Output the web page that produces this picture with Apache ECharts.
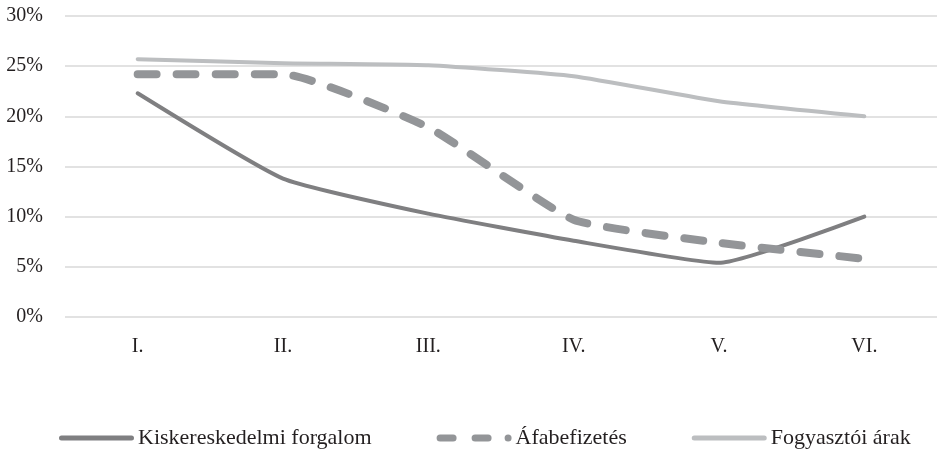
<!DOCTYPE html>
<html><head><meta charset="utf-8">
<script src="https://cdn.jsdelivr.net/npm/echarts@6/dist/echarts.min.js"></script>
<style>html,body{margin:0;padding:0;background:#fff}#c{width:937px;height:450px}</style>
</head><body><div id="c"></div>
<script>
const categories = ['I.', 'II.', 'III.', 'IV.', 'V.', 'VI.'];
const seriesNames = ['Kiskereskedelmi forgalom', 'Áfabefizetés', 'Fogyasztói árak'];
const kisker = [22.3, 13.8, 10.3, 7.6, 5.4, 10.0];
const afa = [24.2, 24.2, 18.9, 9.7, 7.4, 5.8];
const fogy = [25.7, 25.3, 25.1, 24.0, 21.5, 20.0];
const yTicks = [0, 5, 10, 15, 20, 25, 30];

const font = '"Liberation Serif", "DejaVu Serif", serif';
const colors = ['#7f7f81', '#939598', '#bcbec0'];
// legend icon shapes (bounding box 0..75 x 0..10; corner points keep the box)
const box = 'M0,0 L0,0 Z M75,10 L75,10 Z ';
const solidIcon = 'path://' + box + 'M2.5,2.5 H72.5 A2.5,2.5 0 0 1 72.5,7.5 H2.5 A2.5,2.5 0 0 1 2.5,2.5 Z';
const dashIcon = 'path://' + box +
  'M3.5,1.5 H16.5 A3.5,3.5 0 0 1 16.5,8.5 H3.5 A3.5,3.5 0 0 1 3.5,1.5 Z ' +
  'M38.5,1.5 H51.5 A3.5,3.5 0 0 1 51.5,8.5 H38.5 A3.5,3.5 0 0 1 38.5,1.5 Z ' +
  'M71.5,1.5 A3.5,3.5 0 0 1 71.5,8.5 A3.5,3.5 0 0 1 71.5,1.5 Z';

const chart = echarts.init(document.getElementById('c'), null, {renderer: 'canvas'});
chart.setOption({
  animation: false,
  backgroundColor: '#fff',
  textStyle: {fontFamily: font},
  grid: {left: 65, right: 0, top: 16, bottom: 133, containLabel: false},
  xAxis: {
    type: 'category', data: categories, boundaryGap: true,
    axisLine: {show: false}, axisTick: {show: false},
    axisLabel: {color: '#231f20', fontSize: 20, fontFamily: font, margin: 20}
  },
  yAxis: {
    type: 'value', min: yTicks[0], max: yTicks[yTicks.length - 1], interval: 5,
    axisLine: {show: false}, axisTick: {show: false},
    axisLabel: {color: '#231f20', fontSize: 20, fontFamily: font, margin: 22, formatter: v => v + '%'},
    splitLine: {lineStyle: {color: '#d9d9d9', width: 1.5}}
  },
  legend: {
    top: 427, left: 59, padding: 0, itemWidth: 75, itemHeight: 10, itemGap: 65,
    textStyle: {color: '#231f20', fontSize: 22, fontFamily: font, padding: [0, 0, 0, -1]},
    data: [
      {name: seriesNames[0], icon: solidIcon, itemStyle: {color: colors[0], borderWidth: 0}},
      {name: seriesNames[1], icon: dashIcon, itemStyle: {color: colors[1], borderWidth: 0}},
      {name: seriesNames[2], icon: solidIcon, itemStyle: {color: colors[2], borderWidth: 0}}
    ]
  },
  series: [
    {name: seriesNames[0], type: 'line', data: kisker, smooth: 0.15, symbol: 'none',
     lineStyle: {color: colors[0], width: 4, cap: 'round', join: 'round'}, itemStyle: {color: colors[0]}},
    {name: seriesNames[1], type: 'line', data: afa, smooth: 0.15, symbol: 'none',
     lineStyle: {color: colors[1], width: 8, type: [19, 20], cap: 'round', join: 'round'}, itemStyle: {color: colors[1]}},
    {name: seriesNames[2], type: 'line', data: fogy, smooth: 0.15, symbol: 'none',
     lineStyle: {color: colors[2], width: 4, cap: 'round', join: 'round'}, itemStyle: {color: colors[2]}}
  ]
});
</script></body></html>
